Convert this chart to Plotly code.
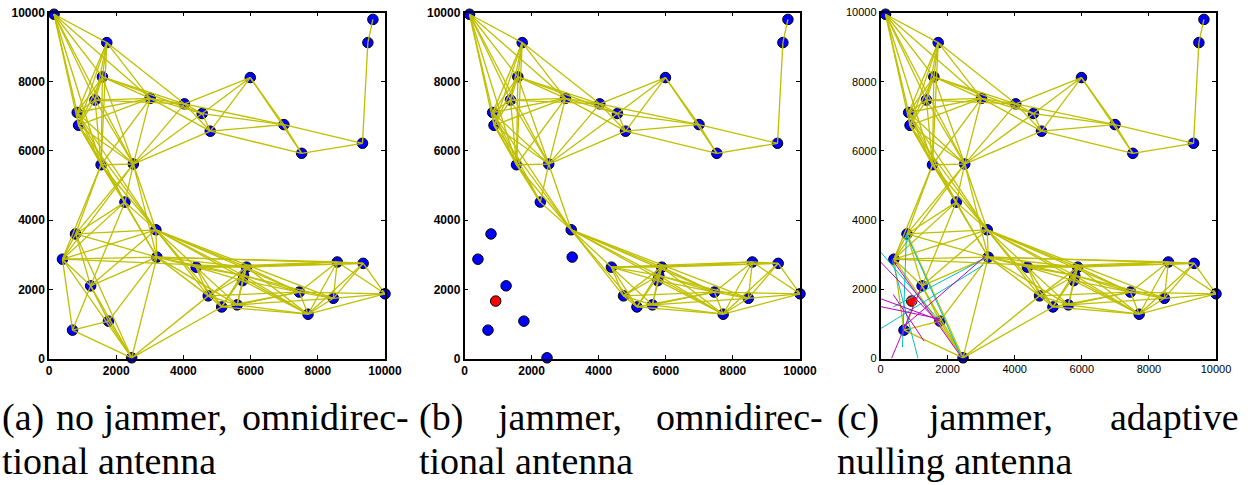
import plotly.graph_objects as go

# ---------------- data ----------------
node_x = [150, 1720, 1590, 1370, 840, 880, 3010, 4030, 4560, 4800,
          5990, 6990, 7520, 9330, 9490, 9640, 1550, 2510, 2260, 790,
          3180, 400, 3210, 1240, 1770, 700, 2460, 4380, 4740, 5140,
          5600, 5880, 5790, 5760, 7450, 8580, 9350, 10000, 8460, 7710]
node_y = [9950, 9130, 8140, 7470, 7110, 6740, 7520, 7360, 7080, 6570,
          8120, 6760, 5930, 6220, 9130, 9800, 5600, 5620, 4520, 3600,
          3720, 2870, 2930, 2100, 1080, 820, 20, 2640, 1810, 1490,
          1550, 2640, 2400, 2250, 1920, 2790, 2750, 1870, 1740, 1280]

edge_from = [0, 0, 0, 0, 0, 0, 0, 0,
             1, 1, 1, 1, 1, 1, 1,
             2, 2, 2, 2, 2, 2, 2, 2,
             3, 3, 3, 3, 3, 3,
             4, 4, 4, 4, 4, 4,
             5, 5, 5, 5, 5, 5,
             6, 6, 6, 6, 6,
             7, 7, 7, 7, 7,
             8, 8, 8, 8,
             9, 9, 9, 9,
             10, 10, 11, 11, 12, 13, 14,
             16, 16, 16, 16, 16,
             17, 17, 17, 17, 17,
             18, 18, 18, 18, 18,
             19, 19, 19, 19, 19,
             20, 20, 20, 20, 20, 20, 20, 20, 20, 20, 20,
             21, 21, 21, 21, 21,
             22, 22, 22, 22, 22, 22, 22, 22, 22,
             23, 23, 23, 24, 24, 24, 25, 26,
             27, 27, 27, 27, 27, 27, 27, 27,
             28, 28, 28, 28, 28, 28,
             29, 29, 29, 29, 29,
             30, 30, 30, 30, 30,
             31, 31, 31, 31, 31, 31,
             32, 32, 32, 32, 33, 33,
             34, 34, 34, 34,
             35, 35, 35, 35,
             36, 36, 36,
             37, 37, 38]
edge_to = [1, 2, 3, 4, 5, 6, 17, 16,
           2, 3, 4, 5, 6, 7, 16,
           3, 4, 5, 6, 7, 8, 16, 17,
           4, 5, 6, 7, 17, 16,
           5, 6, 16, 17, 18, 20,
           6, 16, 17, 18, 20, 22,
           7, 8, 9, 17, 16,
           8, 9, 10, 11, 17,
           9, 10, 11, 17,
           10, 11, 12, 17,
           11, 12, 12, 13, 13, 14, 15,
           17, 18, 19, 21, 20,
           18, 19, 20, 22, 21,
           19, 21, 20, 22, 23,
           20, 21, 22, 23, 26,
           21, 22, 23, 27, 28, 31, 32, 29, 34, 38, 39,
           22, 23, 25, 31, 26,
           23, 26, 27, 28, 31, 32, 30, 35, 36,
           24, 25, 26, 25, 26, 22, 26, 29,
           28, 29, 31, 32, 30, 33, 35, 36,
           29, 30, 31, 32, 34, 26,
           30, 31, 32, 34, 39,
           31, 32, 39, 34, 38,
           32, 33, 35, 34, 39, 36,
           33, 39, 34, 38, 39, 34,
           35, 39, 38, 37,
           36, 38, 39, 37,
           37, 38, 39,
           38, 39, 39]

jammer_x = [930]
jammer_y = [1660]
jammed_nodes = [19, 21, 22, 23, 24, 25, 26]

# nulling directions shown in panel (c)
cyan_x0 = [0, 773, 0, 377, 347, 773]
cyan_y0 = [3080, 3594, 860, 1488, 2860, 3594]
cyan_x1 = [1750, 655, 3055, 3104, 1120, 2410]
cyan_y1 = [1100, 329, 2696, 2889, 0, 40]
mag_x0 = [0, 0, 327, 673, 347, 380, 0]
mag_y0 = [2792, 1729, 0, 908, 2860, 1850, 1500]
mag_x1 = [1765, 1765, 1219, 3104, 2410, 1300, 1750]
mag_y1 = [1005, 1101, 2068, 2937, 40, 500, 1150]

tick_vals = [0, 2000, 4000, 6000, 8000, 10000]
tick_text = ["0", "2000", "4000", "6000", "8000", "10000"]

# ---------------- helpers ----------------
W, H = 1258, 485


def edge_lines(keep):
    xs, ys = [], []
    for i, j in zip(edge_from, edge_to):
        if keep(i, j):
            xs += [node_x[i], node_x[j], None]
            ys += [node_y[i], node_y[j], None]
    return xs, ys


def seg_lines(x0, y0, x1, y1):
    xs, ys = [], []
    for a, b, c, d in zip(x0, y0, x1, y1):
        xs += [a, c, None]
        ys += [b, d, None]
    return xs, ys


EDGE = "#bfbf00"
fig = go.Figure()

panels = [
    dict(px0=49, px1=385, bold=True),
    dict(px0=464.5, px1=800, bold=True),
    dict(px0=880.5, px1=1216, bold=False),
]

node_marker = dict(size=10.5, color="#0000ff", line=dict(color="black", width=1))
jam_marker = dict(size=10.5, color="#ff0000", line=dict(color="black", width=1))

# panel (a)
fig.add_trace(go.Scatter(x=node_x, y=node_y, mode="markers", marker=node_marker,
                         cliponaxis=False, xaxis="x", yaxis="y", hoverinfo="skip"))
ex, ey = edge_lines(lambda i, j: True)
fig.add_trace(go.Scatter(x=ex, y=ey, mode="lines", line=dict(color=EDGE, width=1.3),
                         cliponaxis=False, xaxis="x", yaxis="y", hoverinfo="skip"))

# panel (b)
fig.add_trace(go.Scatter(x=node_x, y=node_y, mode="markers", marker=node_marker,
                         cliponaxis=False, xaxis="x2", yaxis="y2", hoverinfo="skip"))
ex, ey = edge_lines(lambda i, j: i not in jammed_nodes and j not in jammed_nodes)
fig.add_trace(go.Scatter(x=ex, y=ey, mode="lines", line=dict(color=EDGE, width=1.3),
                         cliponaxis=False, xaxis="x2", yaxis="y2", hoverinfo="skip"))
fig.add_trace(go.Scatter(x=jammer_x, y=jammer_y, mode="markers", marker=jam_marker,
                         cliponaxis=False, xaxis="x2", yaxis="y2", hoverinfo="skip"))

# panel (c)
fig.add_trace(go.Scatter(x=node_x, y=node_y, mode="markers", marker=node_marker,
                         cliponaxis=False, xaxis="x3", yaxis="y3", hoverinfo="skip"))
fig.add_trace(go.Scatter(x=jammer_x, y=jammer_y, mode="markers", marker=jam_marker,
                         cliponaxis=False, xaxis="x3", yaxis="y3", hoverinfo="skip"))
ex, ey = edge_lines(lambda i, j: True)
fig.add_trace(go.Scatter(x=ex, y=ey, mode="lines", line=dict(color=EDGE, width=1.3),
                         cliponaxis=False, xaxis="x3", yaxis="y3", hoverinfo="skip"))
cx, cy = seg_lines(cyan_x0, cyan_y0, cyan_x1, cyan_y1)
fig.add_trace(go.Scatter(x=cx, y=cy, mode="lines", line=dict(color="#00bfbf", width=1),
                         xaxis="x3", yaxis="y3", hoverinfo="skip"))
mx, my = seg_lines(mag_x0, mag_y0, mag_x1, mag_y1)
fig.add_trace(go.Scatter(x=mx, y=my, mode="lines", line=dict(color="#bf00bf", width=1),
                         xaxis="x3", yaxis="y3", hoverinfo="skip"))

ydom = [(H - 358.5) / H, (H - 12.5) / H]
layout = dict(width=W, height=H, margin=dict(l=0, r=0, t=0, b=0, pad=0, autoexpand=False),
              paper_bgcolor="white", plot_bgcolor="white", showlegend=False)
for k, p in enumerate(panels):
    suffix = "" if k == 0 else str(k + 1)
    tf = dict(family="Liberation Sans", size=12 if p["bold"] else 11, color="black",
              weight="bold" if p["bold"] else "normal")
    common = dict(range=[0, 10000], tickvals=tick_vals, ticktext=tick_text,
                  showgrid=False, zeroline=False, showline=True, linecolor="black",
                  linewidth=1.5, mirror="ticks", ticks="inside", ticklen=4,
                  tickcolor="black", tickfont=tf, fixedrange=True, automargin=False)
    layout["xaxis" + suffix] = dict(domain=[p["px0"] / W, p["px1"] / W],
                                    anchor="y" + suffix, **common)
    layout["yaxis" + suffix] = dict(domain=ydom, anchor="x" + suffix, **common)

fig.update_layout(**layout)

# captions (justified words, as in the source)
cap_font = dict(family="Liberation Serif", size=38, color="black")
line1 = 417
line2 = 461
captions = [
    ("(a)", 1, line1, "left"), ("no jammer,", 55, line1, "left"), ("omnidirec-", 410, line1, "right"),
    ("tional antenna", 1, line2, "left"),
    ("(b)", 418, line1, "left"), ("jammer,", 495, line1, "left"), ("omnidirec-", 824, line1, "right"),
    ("tional antenna", 418, line2, "left"),
    ("(c)", 836, line1, "left"), ("jammer,", 926, line1, "left"), ("adaptive", 1240, line1, "right"),
    ("nulling antenna", 836, line2, "left"),
]
for txt, px, py, anc in captions:
    fig.add_annotation(text=txt, x=px / W, y=(H - py) / H, xref="paper", yref="paper",
                       xanchor=anc, yanchor="middle", showarrow=False, font=cap_font,
                       borderpad=0)

fig.write_html("out.html")
